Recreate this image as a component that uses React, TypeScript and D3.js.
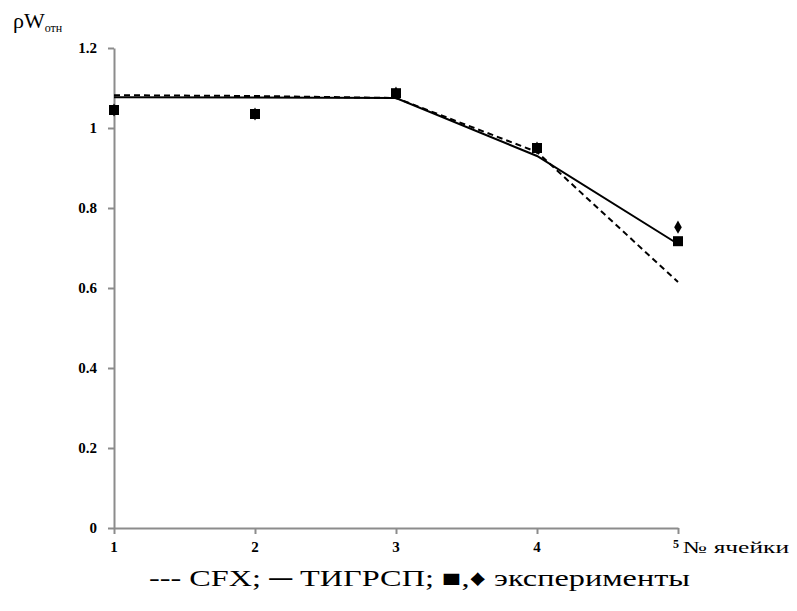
import React, { useEffect, useRef } from 'react';
import * as d3 from 'd3';

// ячейки
const cells = [1, 2, 3, 4, 5];
// CFX (пунктир)
const cfx = [1.082, 1.08, 1.075, 0.94, 0.615];
// ТИГРСП (сплошная)
const tigrsp = [1.077, 1.076, 1.075, 0.93, 0.71];
// эксперимент, квадраты
const expSquares = [1.045, 1.035, 1.087, 0.95, 0.717];
// эксперимент, ромбы
const expDiamonds = [1.045, 1.035, 1.087, 0.95, 0.752];
const yTicks = [0, 0.2, 0.4, 0.6, 0.8, 1, 1.2];

const font = 'Liberation Serif, DejaVu Serif, serif';

const App = () => {
  const ref = useRef<SVGSVGElement>(null);

  useEffect(() => {
    const svg = d3.select(ref.current);
    svg.selectAll('*').remove();

    const x = d3.scaleLinear().domain([1, 5]).range([114, 678]);
    const y = d3.scaleLinear().domain([0, 1.2]).range([528, 48]);

    // y axis
    const yAxis = svg.append('g').attr('transform', 'translate(114,0)')
      .call(d3.axisLeft(y).tickValues(yTicks).tickSize(6).tickSizeOuter(0)
        .tickFormat((d) => String(d)));
    // x axis
    const xAxis = svg.append('g').attr('transform', 'translate(0,528)')
      .call(d3.axisBottom(x).tickValues(cells).tickSize(6).tickSizeOuter(0)
        .tickFormat(() => ''));
    [yAxis, xAxis].forEach((ax) => {
      ax.attr('font-family', null);
      ax.select('.domain').attr('stroke', '#8c8c8c').attr('stroke-width', 2);
      ax.selectAll('.tick line').attr('stroke', '#8c8c8c').attr('stroke-width', 2);
    });
    yAxis.selectAll('.tick text')
      .style('font-family', font).attr('font-weight', 'bold')
      .attr('font-size', 15).attr('fill', '#000').attr('x', -17);

    // x tick labels
    svg.append('g').selectAll('text').data(cells).enter().append('text')
      .attr('x', (d) => x(d) + (d === 5 ? -2 : 0))
      .attr('y', (d) => (d === 5 ? 548 : 552))
      .attr('text-anchor', 'middle')
      .style('font-family', font).attr('font-weight', 'bold')
      .attr('font-size', (d) => (d === 5 ? 12 : 15))
      .text((d) => d);

    svg.append('text').attr('x', 683).attr('y', 553)
      .style('font-family', font).attr('font-size', 17)
      .attr('textLength', 106).attr('lengthAdjust', 'spacingAndGlyphs')
      .text('№ ячейки');

    // y title
    const t = svg.append('text').attr('x', 13).attr('y', 28).style('font-family', font).attr('font-size', 22);
    t.append('tspan').text('ρW');
    t.append('tspan').attr('font-size', 12).attr('dy', 4).text('отн');

    // legend / caption
    svg.append('text').attr('x', 149).attr('y', 586)
      .style('font-family', font).attr('font-size', 23)
      .attr('textLength', 541).attr('lengthAdjust', 'spacingAndGlyphs')
      .text('--- CFX; ─ ТИГРСП; ■,♦ эксперименты');

    const line = d3.line<number>().x((_, i) => x(cells[i])).y((d) => y(d));

    svg.append('path').datum(cfx).attr('d', line).attr('fill', 'none')
      .attr('stroke', '#000').attr('stroke-width', 2).attr('stroke-dasharray', '6,4');
    svg.append('path').datum(tigrsp).attr('d', line).attr('fill', 'none')
      .attr('stroke', '#000').attr('stroke-width', 2);

    svg.append('g').selectAll('path').data(expDiamonds).enter().append('path')
      .attr('d', d3.symbol().type(d3.symbolDiamond).size(50))
      .attr('transform', (d, i) => `translate(${x(cells[i])},${y(d)})`)
      .attr('fill', '#000');
    svg.append('g').selectAll('rect').data(expSquares).enter().append('rect')
      .attr('x', (_, i) => x(cells[i]) - 5).attr('y', (d) => y(d) - 5)
      .attr('width', 10).attr('height', 10).attr('fill', '#000');
  }, []);

  return <svg ref={ref} width={797} height={611} style={{ display: 'block', margin: -8 }}></svg>;
};

export default App;
